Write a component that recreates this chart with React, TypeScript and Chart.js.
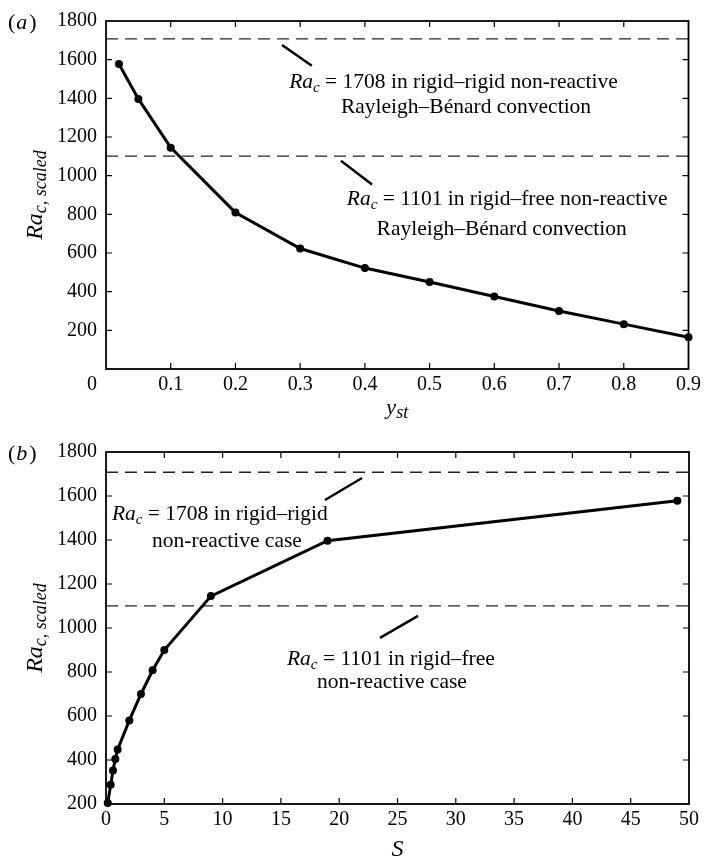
import React, { useEffect, useRef } from "react";
import { Chart, registerables } from "chart.js";

Chart.register(...registerables);

// ---- data ----
const ystA = [0.02, 0.05, 0.1, 0.2, 0.3, 0.4, 0.5, 0.6, 0.7, 0.8, 0.9];
const raA = [1578, 1397, 1145, 809, 623, 522, 450, 375, 300, 232, 164];
const sB = [0.15, 0.4, 0.6, 0.8, 1, 2, 3, 4, 5, 9, 19, 49];
const raB = [205, 288, 352, 405, 448, 580, 700, 808, 900, 1145, 1397, 1578];
const raRigidRigid = 1708;
const raRigidFree = 1101;

const xTicksA = [0, 0.1, 0.2, 0.3, 0.4, 0.5, 0.6, 0.7, 0.8, 0.9];
const yTicksA = [0, 200, 400, 600, 800, 1000, 1200, 1400, 1600, 1800];
const xTicksB = [0, 5, 10, 15, 20, 25, 30, 35, 40, 45, 50];
const yTicksB = [200, 400, 600, 800, 1000, 1200, 1400, 1600, 1800];

const SERIF = "'Liberation Serif', 'Times New Roman', serif";

type Part = { t: string; font: string; dy?: number };

function raParts(rest: string): Part[] {
  return [
    { t: "Ra", font: `italic 21.5px ${SERIF}` },
    { t: "c", font: `italic 15px ${SERIF}`, dy: 4 },
    { t: rest, font: `21.5px ${SERIF}` },
  ];
}
function plain(t: string): Part[] {
  return [{ t, font: `21.5px ${SERIF}` }];
}

function drawParts(ctx: CanvasRenderingContext2D, x: number, y: number, parts: Part[]) {
  let cx = x;
  for (const p of parts) {
    ctx.font = p.font;
    ctx.fillText(p.t, cx, y + (p.dy || 0));
    cx += ctx.measureText(p.t).width;
  }
}
function partsWidth(ctx: CanvasRenderingContext2D, parts: Part[]) {
  let w = 0;
  for (const p of parts) {
    ctx.font = p.font;
    w += ctx.measureText(p.t).width;
  }
  return w;
}

type PanelOpts = {
  label: string;
  xTitle: Part[];
  xTitleOffset: number;
  zeroCorner: boolean;
  leaders: number[][];
  texts: { x: number; y: number; parts: Part[] }[];
};

function makePlugin(o: PanelOpts) {
  return {
    id: "decor",
    afterDraw(chart: any) {
      const ctx: CanvasRenderingContext2D = chart.ctx;
      const { left, top, right, bottom } = chart.chartArea;
      const xs = chart.scales.x;
      const ys = chart.scales.y;
      ctx.save();
      ctx.fillStyle = "#000";
      ctx.strokeStyle = "#000";
      // box
      ctx.lineWidth = 1.8;
      ctx.strokeRect(left, top, right - left, bottom - top);
      // inner ticks
      ctx.lineWidth = 1.2;
      ctx.beginPath();
      xs.ticks.forEach((t: any) => {
        const px = xs.getPixelForValue(t.value);
        if (px <= left + 1 || px >= right - 1) return;
        ctx.moveTo(px, bottom);
        ctx.lineTo(px, bottom - 6);
        ctx.moveTo(px, top);
        ctx.lineTo(px, top + 6);
      });
      ys.ticks.forEach((t: any) => {
        const py = ys.getPixelForValue(t.value);
        if (py <= top + 1 || py >= bottom - 1) return;
        ctx.moveTo(left, py);
        ctx.lineTo(left + 6, py);
        ctx.moveTo(right, py);
        ctx.lineTo(right - 6, py);
      });
      ctx.stroke();
      // corner zero
      if (o.zeroCorner) {
        ctx.font = `20px ${SERIF}`;
        ctx.textAlign = "right";
        ctx.textBaseline = "middle";
        ctx.fillText("0", left - 9, bottom + 16);
      }
      ctx.textAlign = "left";
      ctx.textBaseline = "alphabetic";
      // panel label
      ctx.font = `22px ${SERIF}`;
      let lx = 8;
      const ly = top + 8;
      ctx.fillText("(", lx, ly);
      lx += ctx.measureText("(").width + 1;
      ctx.font = `italic 22px ${SERIF}`;
      ctx.fillText(o.label, lx, ly);
      lx += ctx.measureText(o.label).width + 2;
      ctx.font = `22px ${SERIF}`;
      ctx.fillText(")", lx, ly);
      // y title (rotated)
      const yParts: Part[] = [
        { t: "Ra", font: `italic 24px ${SERIF}` },
        { t: "c, scaled", font: `italic 18px ${SERIF}`, dy: 4 },
      ];
      const yw = partsWidth(ctx, yParts);
      ctx.save();
      ctx.translate(left - 64, (top + bottom) / 2);
      ctx.rotate(-Math.PI / 2);
      drawParts(ctx, -yw / 2, 0, yParts);
      ctx.restore();
      // x title
      const xw = partsWidth(ctx, o.xTitle);
      drawParts(ctx, (left + right) / 2 - xw / 2, bottom + o.xTitleOffset, o.xTitle);
      // leader lines
      ctx.lineWidth = 2.4;
      ctx.beginPath();
      o.leaders.forEach((l) => {
        ctx.moveTo(xs.getPixelForValue(l[0]), ys.getPixelForValue(l[1]));
        ctx.lineTo(xs.getPixelForValue(l[2]), ys.getPixelForValue(l[3]));
      });
      ctx.stroke();
      // annotation texts
      o.texts.forEach((t) => {
        drawParts(ctx, xs.getPixelForValue(t.x), ys.getPixelForValue(t.y), t.parts);
      });
      ctx.restore();
    },
  };
}

function buildConfig(
  xs: number[],
  ys: number[],
  xTicks: number[],
  yTicks: number[],
  xFmt: (v: number) => string,
  yFmt: (v: number) => string,
  xHeight: number,
  padTop: number,
  plugin: any
): any {
  const xmin = xTicks[0];
  const xmax = xTicks[xTicks.length - 1];
  const ymin = yTicks[0];
  const ymax = yTicks[yTicks.length - 1];
  const pts = xs.map((x, i) => ({ x, y: ys[i] }));
  const dashed = (v: number) => ({
    data: [
      { x: xmin, y: v },
      { x: xmax, y: v },
    ],
    showLine: true,
    borderColor: "#222",
    borderWidth: 1.3,
    borderDash: [12, 7],
    pointRadius: 0,
    fill: false,
  });
  return {
    type: "scatter",
    data: {
      datasets: [
        {
          data: pts,
          showLine: true,
          borderColor: "#000",
          borderWidth: 3,
          pointRadius: 4,
          pointBackgroundColor: "#000",
          pointBorderColor: "#000",
          pointBorderWidth: 0,
          tension: 0,
          clip: false,
        },
        dashed(raRigidRigid),
        dashed(raRigidFree),
      ],
    },
    options: {
      responsive: false,
      animation: false,
      layout: { padding: { left: 0, top: padTop, right: 16, bottom: 0 } },
      plugins: { legend: { display: false }, tooltip: { enabled: false } },
      scales: {
        x: {
          type: "linear",
          min: xmin,
          max: xmax,
          afterBuildTicks: (s: any) => {
            s.ticks = xTicks.map((v) => ({ value: v }));
          },
          afterFit: (s: any) => {
            s.height = xHeight;
          },
          grid: { display: false, drawTicks: false, tickLength: 0 },
          border: { display: false },
          ticks: {
            color: "#000",
            font: { family: SERIF, size: 20 },
            padding: 4,
            maxRotation: 0,
            autoSkip: false,
            callback: (v: any) => xFmt(Number(v)),
          },
        },
        y: {
          type: "linear",
          min: ymin,
          max: ymax,
          afterBuildTicks: (s: any) => {
            s.ticks = yTicks.map((v) => ({ value: v }));
          },
          afterFit: (s: any) => {
            s.width = 106;
          },
          grid: { display: false, drawTicks: false, tickLength: 0 },
          border: { display: false },
          ticks: {
            color: "#000",
            font: { family: SERIF, size: 20 },
            padding: 9,
            autoSkip: false,
            callback: (v: any) => yFmt(Number(v)),
          },
        },
      },
    },
    plugins: [plugin],
  };
}

export default function App() {
  const refA = useRef<HTMLCanvasElement | null>(null);
  const refB = useRef<HTMLCanvasElement | null>(null);

  useEffect(() => {
    const pluginA = makePlugin({
      label: "a",
      xTitle: [
        { t: "y", font: `italic 22px ${SERIF}` },
        { t: "st", font: `italic 18px ${SERIF}`, dy: 4 },
      ],
      xTitleOffset: 45,
      zeroCorner: true,
      leaders: [
        [0.272, 1676, 0.318, 1568],
        [0.363, 1077, 0.411, 954],
      ],
      texts: [
        { x: 0.283, y: 1454, parts: raParts(" = 1708 in rigid\u2013rigid non-reactive") },
        { x: 0.363, y: 1325, parts: plain("Rayleigh\u2013B\u00e9nard convection") },
        { x: 0.372, y: 850, parts: raParts(" = 1101 in rigid\u2013free non-reactive") },
        { x: 0.418, y: 695, parts: plain("Rayleigh\u2013B\u00e9nard convection") },
      ],
    });
    const pluginB = makePlugin({
      label: "b",
      xTitle: [{ t: "S", font: `italic 24px ${SERIF}` }],
      xTitleOffset: 52,
      zeroCorner: false,
      leaders: [
        [18.78, 1582, 21.96, 1682],
        [23.5, 955, 26.76, 1055],
      ],
      texts: [
        { x: 0.51, y: 1491, parts: raParts(" = 1708 in rigid\u2013rigid") },
        { x: 3.95, y: 1368, parts: plain("non-reactive case") },
        { x: 15.52, y: 832, parts: raParts(" = 1101 in rigid\u2013free") },
        { x: 18.1, y: 727, parts: plain("non-reactive case") },
      ],
    });

    const chartA = new Chart(
      refA.current as HTMLCanvasElement,
      buildConfig(
        ystA,
        raA,
        xTicksA,
        yTicksA,
        (v) => (v === 0 ? "" : v.toFixed(1)),
        (v) => (v === 0 ? "" : String(v)),
        61,
        21,
        pluginA
      )
    );
    const chartB = new Chart(
      refB.current as HTMLCanvasElement,
      buildConfig(
        sB,
        raB,
        xTicksB,
        yTicksB,
        (v) => String(v),
        (v) => String(v),
        54,
        22,
        pluginB
      )
    );
    return () => {
      chartA.destroy();
      chartB.destroy();
    };
  }, []);

  return (
    <div style={{ position: "absolute", left: 0, top: 0, width: 705, height: 858, background: "#fff" }}>
      <canvas ref={refA} width={705} height={430} style={{ position: "absolute", left: 0, top: 0, width: 705, height: 430 }} />
      <canvas ref={refB} width={705} height={428} style={{ position: "absolute", left: 0, top: 430, width: 705, height: 428 }} />
    </div>
  );
}
